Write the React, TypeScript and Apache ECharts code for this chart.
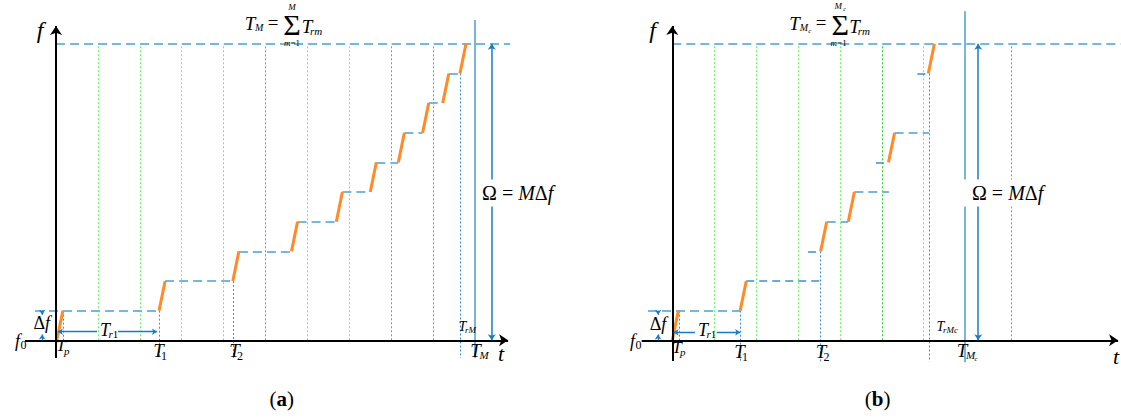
import React, { useEffect, useRef } from "react";
import * as echarts from "echarts";

const FONT = "Liberation Serif";

// ---------------- data ----------------
// time: 10 units = one green grid step ; frequency: in steps of Δf (M = 10)
const pulseTp = 1.45;
const topLevel = 10;

// panel (a)
const gridTimesA = [10, 20, 30, 40, 50, 60, 70, 80, 90];
const gridStrongA = [false, false, false, false, true, false, false, true, true];
const hopTimesA = [0.2, 24.6, 42.2, 56.2, 66.9, 75.0, 81.7, 87.5, 92.3, 96.4];
const hopLevelsA = [0, 1, 2, 3, 4, 5, 6, 7, 8, 9];
const dwellLevelsA = [1, 2, 3, 4, 5, 6, 7, 8, 9];
const dwellStartA = [-5.0, 26.05, 43.65, 57.65, 68.35, 76.45, 83.15, 88.95, 93.75];
const dwellEndA = [24.6, 42.2, 56.2, 66.9, 75.0, 81.7, 87.5, 92.3, 96.4];
const markTimesA = [1.67, 24.6, 42.2, 96.4];
const markTopA = [1, 1, 2, 9];
const markBottomA = [0, -0.6, -0.6, -0.6];
const totalTimeA = 100;
const omegaTimeA = 104;

// panel (b)
const gridTimesB = [10, 20, 30, 40, 50, 60, 81];
const gridStrongB = [false, false, false, false, true, false, true];
const hopTimesB = [0.0, 16.2, 35.4, 42.0, 51.6, 61.1];
const hopLevelsB = [0, 1, 3, 4, 6, 9];
const dwellLevelsB = [1, 2, 3, 4, 5, 6, 7, 9];
const dwellStartB = [-5.8, 17.65, 32.4, 36.85, 43.45, 48.6, 53.05, 58.5];
const dwellEndB = [16.2, 35.2, 35.4, 42.0, 51.7, 51.6, 61.3, 61.1];
const dwellDarkB = [false, true, true, false, false, true, false, true];
const markTimesB = [1.6, 16.2, 35.4, 61.3];
const markTopB = [1, 1, 3, 9];
const markBottomB = [0, -0.72, -0.72, -0.72];
const totalTimeB = 69.9;
const omegaTimeB = 73;

// ---------------- layout ----------------
const PANELS = [
  {
    grid: { left: 14.1, top: 2.3, width: 502.8, height: 367.66 },
    xMin: -10, xMax: 110,
    xAxisFrom: -7.4, xAxisTo: 107.9, yAxisFrom: -0.6, yAxisTo: 10.6, refTo: 108.4,
    totalFrom: -0.6, totalTo: 10.8, dfX: -3.3, trY: 0.29, trL: [9.8, 0.45], trR: [14.8, 24.1],
    grids: gridTimesA, strong: gridStrongA, hops: hopTimesA, hopLv: hopLevelsA,
    dwLv: dwellLevelsA, dwS: dwellStartA, dwE: dwellEndA, dwDark: dwellLevelsA.map(() => false),
    mT: markTimesA, mTop: markTopA, mBot: markBottomA, total: totalTimeA, omega: omegaTimeA,
  },
  {
    grid: { left: 630.4, top: 2.3, width: 490.23, height: 367.66 },
    xMin: -10, xMax: 107,
    xAxisFrom: -7.3, xAxisTo: 106.4, yAxisFrom: -0.7, yAxisTo: 10.6, refTo: 107,
    totalFrom: -0.74, totalTo: 11.1, dfX: -3.4, trY: 0.27, trL: [5.4, 0.3], trR: [10.6, 16.2],
    grids: gridTimesB, strong: gridStrongB, hops: hopTimesB, hopLv: hopLevelsB,
    dwLv: dwellLevelsB, dwS: dwellStartB, dwE: dwellEndB, dwDark: dwellDarkB,
    mT: markTimesB, mTop: markTopB, mBot: markBottomB, total: totalTimeB, omega: omegaTimeB,
  },
];

type Part = { t: string; s: number; dx?: number; dy?: number; a?: string; bg?: number[] };
type Label = { p: number; x: number; y: number; parts: Part[] };

const sub = (t: string, s: number, dx: number, dy: number): Part => ({ t, s, dx, dy, a: "left" });

const LABELS: Label[] = [
  // (a)
  { p: 0, x: -3.82, y: 10.47, parts: [{ t: "{i|f}", s: 24 }] },
  { p: 0, x: 106.2, y: -0.46, parts: [{ t: "{i|t}", s: 22 }] },
  { p: 0, x: -9.2, y: -0.02, parts: [{ t: "{i|f}", s: 18 }, sub("{n|0}", 12, 3, 4)] },
  { p: 0, x: -3.41, y: 0.6, parts: [{ t: "{n|Δ}{i|f}", s: 18 }] },
  { p: 0, x: 11.7, y: 0.35, parts: [{ t: "{i|T}", s: 18 }, sub("{i|r}{n|1}", 11, 3.5, 4)] },
  { p: 0, x: 1.19, y: -0.19, parts: [{ t: "{i|T}", s: 17 }, sub("{i|p}", 11, 3, 5)] },
  { p: 0, x: 24.46, y: -0.36, parts: [{ t: "{i|T}", s: 19 }, sub("{n|1}", 12, 2.5, 5)] },
  { p: 0, x: 42.6, y: -0.36, parts: [{ t: "{i|T}", s: 19 }, sub("{n|2}", 12, 2.5, 5)] },
  { p: 0, x: 97.0, y: 0.45, parts: [{ t: "{i|T}", s: 14 }, sub("{i|rM}", 9, 2.5, 3)] },
  { p: 0, x: 100.1, y: -0.33, parts: [{ t: "{i|T}", s: 19 }, sub("{i|M}", 11, 4, 5)] },
  { p: 0, x: 101.2, y: 4.97, parts: [{ t: "{n|Ω = }{i|M}{n|Δ}{i|f}", s: 20, a: "left", bg: [3, 3, 3, 2] }] },
  { p: 0, x: 53.9, y: -1.98, parts: [{ t: "{n|(}{b|a}{n|)}", s: 21 }] },
  {
    p: 0, x: 46.3, y: 10.67, parts: [
      { t: "{i|T}", s: 19 }, sub("{i|M}", 10, 5, 4),
      { t: "{n|=}", s: 19, dx: 23, dy: -1 },
      { t: "{n|Σ}", s: 30, dx: 42, dy: 1 },
      { t: "{i|M}", s: 9, dx: 42, dy: -17 },
      { t: "{i|m}{n|=1}", s: 9, dx: 42, dy: 19 },
      { t: "{i|T}", s: 19, dx: 57, dy: 3 }, sub("{i|rm}", 11, 60, 7),
    ],
  },
  // (b)
  { p: 1, x: -4.7, y: 10.47, parts: [{ t: "{i|f}", s: 24 }] },
  { p: 1, x: 105.9, y: -0.53, parts: [{ t: "{i|t}", s: 22 }] },
  { p: 1, x: -9.5, y: -0.02, parts: [{ t: "{i|f}", s: 18 }, sub("{n|0}", 12, 3, 4)] },
  { p: 1, x: -3.41, y: 0.55, parts: [{ t: "{n|Δ}{i|f}", s: 18 }] },
  { p: 1, x: 7.33, y: 0.35, parts: [{ t: "{i|T}", s: 18 }, sub("{i|r}{n|1}", 11, 3.5, 4)] },
  { p: 1, x: 1.12, y: -0.23, parts: [{ t: "{i|T}", s: 17 }, sub("{i|p}", 11, 3, 5)] },
  { p: 1, x: 16.04, y: -0.39, parts: [{ t: "{i|T}", s: 19 }, sub("{n|1}", 12, 2.5, 5)] },
  { p: 1, x: 35.49, y: -0.39, parts: [{ t: "{i|T}", s: 19 }, sub("{n|2}", 12, 2.5, 5)] },
  { p: 1, x: 64.0, y: 0.45, parts: [{ t: "{i|T}", s: 14 }, sub("{i|rMc}", 9, 2.5, 3)] },
  { p: 1, x: 69.14, y: -0.33, parts: [{ t: "{i|T}", s: 19 }, sub("{i|M}", 11, 4, 5), sub("{i|c}", 7, 12.5, 9)] },
  { p: 1, x: 69.14, y: 4.97, parts: [{ t: "{n|Ω = }{i|M}{n|Δ}{i|f}", s: 20, a: "left", bg: [3, 3, 3, 10] }] },
  { p: 1, x: 49.0, y: -1.98, parts: [{ t: "{n|(}{b|b}{n|)}", s: 21 }] },
  {
    p: 1, x: 29.2, y: 10.67, parts: [
      { t: "{i|T}", s: 19 }, sub("{i|M}", 10, 5, 4), sub("{i|c}", 7, 13.5, 7),
      { t: "{n|=}", s: 19, dx: 26.5, dy: -1 },
      { t: "{n|Σ}", s: 30, dx: 45.5, dy: 1 },
      { t: "{i|M}", s: 9, dx: 43.5, dy: -18 }, sub("{i|c}", 6, 48.5, -15),
      { t: "{i|m}{n|=1}", s: 9, dx: 44, dy: 19 },
      { t: "{i|T}", s: 19, dx: 60, dy: 3 }, sub("{i|rm}", 11, 63, 7),
    ],
  },
];

function richFor(size: number) {
  const base = { fontSize: size, fontFamily: FONT, fill: "#000", color: "#000", lineHeight: Math.round(size * 1.05) };
  return {
    i: { ...base, fontStyle: "italic" },
    n: { ...base, fontStyle: "normal" },
    b: { ...base, fontStyle: "normal", fontWeight: "bold" },
  };
}

const seg = (x1: number, y1: number, x2: number, y2: number, ls?: any) =>
  ls ? { coords: [[x1, y1], [x2, y2]], lineStyle: ls } : { coords: [[x1, y1], [x2, y2]] };

function buildSeries() {
  const series: any[] = [];
  PANELS.forEach((P, i) => {
    const common = { type: "lines", coordinateSystem: "cartesian2d", xAxisIndex: i, yAxisIndex: i, silent: true, polyline: false };
    series.push({
      ...common, z: 1,
      lineStyle: { width: 1, type: [2, 2], opacity: 1, color: "#6ee86e" },
      data: P.grids.map((t, k) => seg(t, 0, t, topLevel, { color: P.strong[k] ? "#2fd42f" : "#72ec72", width: 1, type: [2, 2], opacity: 1 })),
    });
    series.push({
      ...common, z: 2,
      lineStyle: { width: 1, type: [2, 2], opacity: 1, color: "#3b92d2" },
      data: P.mT.map((t, k) => seg(t, P.mTop[k], t, P.mBot[k])),
    });
    series.push({
      ...common, z: 3,
      lineStyle: { width: 2, type: [9, 5], opacity: 1, color: "#76b7dc" },
      data: [
        ...P.dwLv.map((lv, k) =>
          P.dwDark[k]
            ? seg(P.dwS[k], lv, P.dwE[k], lv, { color: "#3a90cf", width: 1.6, type: [8, 5], opacity: 1 })
            : seg(P.dwS[k], lv, P.dwE[k], lv)
        ),
        seg(0, topLevel, P.refTo, topLevel),
      ],
    });
    series.push({
      ...common, z: 4,
      lineStyle: { width: 3, opacity: 1, color: "#ff8a26" },
      data: P.hops.map((t, k) => seg(t, P.hopLv[k], t + pulseTp, P.hopLv[k] + 1)),
    });
    series.push({
      ...common, z: 3,
      lineStyle: { width: 2, opacity: 1, color: "#78b6dc" },
      data: [seg(P.total, P.totalFrom, P.total, P.totalTo)],
    });
    series.push({
      ...common, z: 5,
      symbol: ["none", "arrow"], symbolSize: 9,
      lineStyle: { width: 2, opacity: 1, color: "#000" },
      data: [seg(P.xAxisFrom, 0, P.xAxisTo, 0), seg(0, P.yAxisFrom, 0, P.yAxisTo)],
    });
    series.push({
      ...common, z: 6,
      symbol: ["none", "arrow"], symbolSize: 5,
      lineStyle: { width: 1.3, opacity: 1, color: "#1a7cc0" },
      data: [
        seg(P.dfX, 1, P.dfX, 0.86),
        seg(P.dfX, 0, P.dfX, 0.2),
        seg(P.trL[0], P.trY, P.trL[1], P.trY),
        seg(P.trR[0], P.trY, P.trR[1], P.trY),
      ],
    });
    series.push({
      ...common, z: 6,
      symbol: ["arrow", "arrow"], symbolSize: 6,
      lineStyle: { width: 1.5, opacity: 1, color: "#1a7cc0" },
      data: [seg(P.omega, 0, P.omega, topLevel)],
    });
  });
  return series;
}

export default function App() {
  const ref = useRef<HTMLDivElement>(null);
  useEffect(() => {
    if (!ref.current) return;
    const chart = echarts.init(ref.current, null, { renderer: "svg" });
    chart.setOption({
      animation: false,
      backgroundColor: "#fff",
      grid: PANELS.map((P) => ({ ...P.grid, containLabel: false })),
      xAxis: PANELS.map((P, i) => ({ type: "value", gridIndex: i, min: P.xMin, max: P.xMax, show: false })),
      yAxis: PANELS.map((P, i) => ({ type: "value", gridIndex: i, min: -1, max: 11.4, show: false })),
      series: buildSeries(),
    });
    const els: any[] = [];
    LABELS.forEach((lb) => {
      const pt = chart.convertToPixel({ gridIndex: lb.p } as any, [lb.x, lb.y]) as number[];
      lb.parts.forEach((p) => {
        const align = p.a || "center";
        const style: any = {
          text: p.t,
          rich: richFor(p.s),
          fontSize: p.s,
          fontFamily: FONT,
          fill: "#000",
          align, textAlign: align,
          verticalAlign: "middle", textVerticalAlign: "middle",
        };
        if (p.bg) {
          style.backgroundColor = "#fff";
          style.textBackgroundColor = "#fff";
          style.padding = p.bg;
          style.textPadding = p.bg;
        }
        els.push({ type: "text", x: pt[0] + (p.dx || 0), y: pt[1] + (p.dy || 0), z: 100, silent: true, style });
      });
    });
    chart.setOption({ graphic: { elements: els } });
    return () => chart.dispose();
  }, []);
  return (
    <div
      ref={ref}
      style={{ position: "absolute", left: 0, top: 0, width: 1121, height: 419, background: "#fff" }}
    />
  );
}
